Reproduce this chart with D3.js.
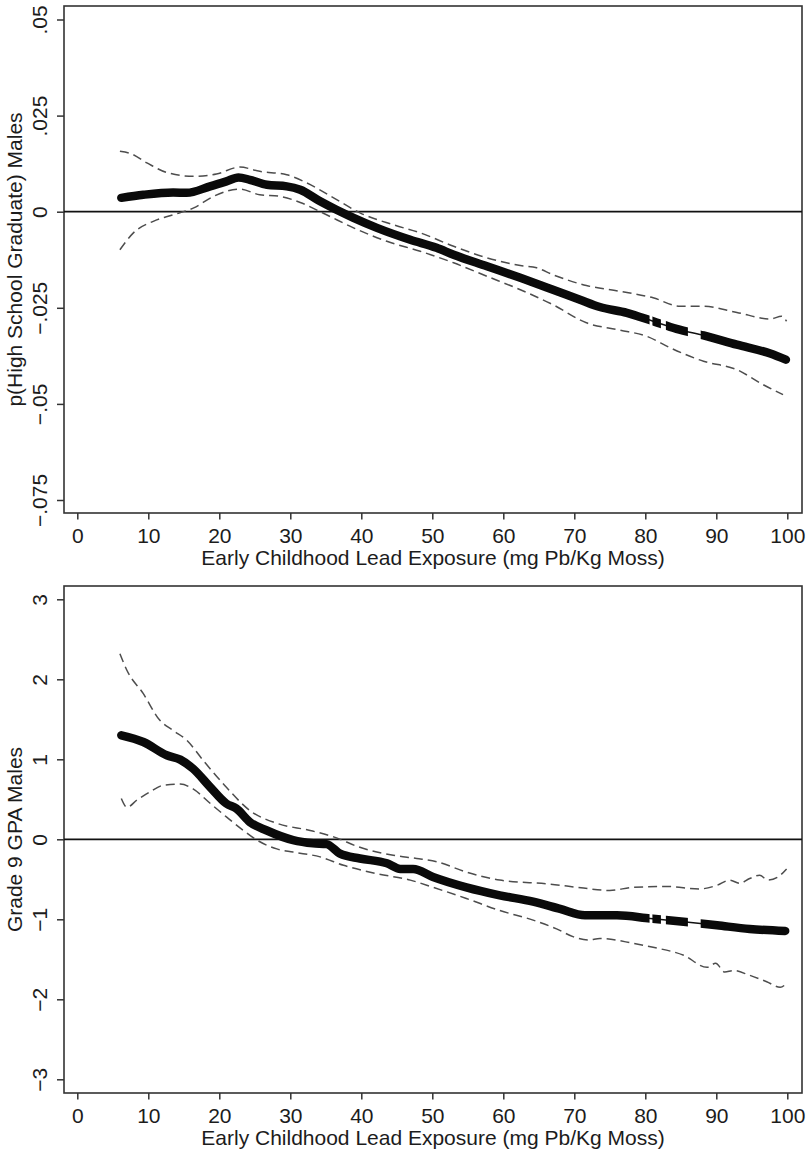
<!DOCTYPE html>
<html>
<head>
<meta charset="utf-8">
<script src="https://cdn.jsdelivr.net/npm/d3@7"></script>
<style>
  body { margin: 0; background: #fff; }
  svg { display: block; }
</style>
</head>
<body>
<div id="chart"></div>
<script>
// x axis shared by both panels
var xTicks = [0, 10, 20, 30, 40, 50, 60, 70, 80, 90, 100];
var xTitle = "Early Childhood Lead Exposure (mg Pb/Kg Moss)";

// top panel: p(High School Graduate)
var hsTicks = [0.05, 0.025, 0, -0.025, -0.05, -0.075];
var hsTickLabels = [".05", ".025", "0", "\u2212.025", "\u2212.05", "\u2212.075"];
var hsTitle = "p(High School Graduate) Males";
var hsEst = [[6.2,0.0036],[9.3,0.0044],[13.5,0.0050],[15.4,0.0049],[18.7,0.0066],[21.0,0.0079],
  [22.7,0.0089],[24.3,0.0083],[26.7,0.0070],[29.5,0.0066],[31.4,0.0057],[34.2,0.0027],[36.5,0.0005],
  [38.9,-0.0016],[42.2,-0.0042],[46.9,-0.0073],[50.6,-0.0094],[53.0,-0.0112],[57.7,-0.0142],
  [62.4,-0.0172],[67.0,-0.0203],[70.8,-0.0229],[73.6,-0.0248],[77.4,-0.0263],[81.1,-0.0285],
  [84.4,-0.0305],[88.2,-0.0322],[92.9,-0.0346],[97.6,-0.0369],[99.8,-0.0385]];
var hsHi = [[6.0,0.0157],[7.4,0.0152],[9.8,0.0127],[12.6,0.0102],[16.4,0.0092],[19.6,0.0098],
  [22.9,0.0116],[25.7,0.0105],[29.5,0.0096],[32.3,0.0075],[36.1,0.0036],[39.8,-0.0003],[44.5,-0.0034],
  [48.3,-0.0055],[53.0,-0.0090],[57.7,-0.0120],[62.4,-0.0140],[64.7,-0.0146],[67.0,-0.0164],
  [71.7,-0.0192],[76.4,-0.0207],[81.1,-0.0224],[84.9,-0.0246],[88.2,-0.0246],[92.9,-0.0262],
  [97.6,-0.0279],[99.2,-0.0272],[99.9,-0.0285]];
var hsLo = [[6.0,-0.0099],[7.9,-0.0055],[10.7,-0.0025],[13.5,-0.0008],[16.4,0.0010],[19.2,0.0040],
  [22.9,0.0059],[25.7,0.0044],[28.5,0.0040],[31.4,0.0024],[35.1,-0.0008],[38.9,-0.0042],[43.6,-0.0077],
  [48.3,-0.0103],[53.0,-0.0133],[57.7,-0.0168],[62.4,-0.0203],[67.0,-0.0242],[71.7,-0.0289],
  [76.4,-0.0308],[80.2,-0.0324],[83.5,-0.0354],[88.2,-0.0389],[92.9,-0.0411],[96.6,-0.0450],[99.4,-0.0476]];

// bottom panel: Grade 9 GPA
var gpaTicks = [3, 2, 1, 0, -1, -2, -3];
var gpaTickLabels = ["3", "2", "1", "0", "\u22121", "\u22122", "\u22123"];
var gpaTitle = "Grade 9 GPA Males";
var gpaEst = [[6.2,1.30],[9.3,1.216],[12.6,1.05],[14.5,0.996],[16.3,0.883],[18.7,0.654],[21.0,0.446],
  [22.4,0.384],[24.3,0.216],[26.7,0.11],[30.4,-0.01],[33.2,-0.05],[35.1,-0.06],[37.0,-0.18],[39.8,-0.24],
  [43.6,-0.30],[45.5,-0.37],[47.3,-0.37],[50.1,-0.47],[54.8,-0.60],[59.5,-0.70],[64.2,-0.78],[68.0,-0.87],
  [71.5,-0.95],[76.0,-0.95],[80.7,-0.99],[85.4,-1.03],[90.1,-1.075],[94.7,-1.12],[99.7,-1.146]];
var gpaHi = [[6.0,2.32],[7.0,2.11],[9.3,1.82],[11.6,1.49],[13.5,1.36],[15.4,1.24],[17.7,0.99],[21.0,0.65],
  [24.3,0.36],[28.1,0.20],[32.8,0.11],[36.1,0.03],[39.8,-0.10],[44.5,-0.20],[47.8,-0.24],[50.6,-0.28],
  [54.8,-0.41],[59.5,-0.51],[66.6,-0.56],[71.3,-0.61],[75.0,-0.64],[78.3,-0.60],[83.0,-0.59],[87.7,-0.62],
  [90.1,-0.575],[91.9,-0.51],[93.3,-0.55],[94.7,-0.49],[96.1,-0.45],[97.3,-0.51],[98.7,-0.47],[99.9,-0.37]];
var gpaLo = [[6.2,0.51],[7.0,0.40],[8.4,0.49],[10.2,0.59],[12.1,0.675],[14.5,0.69],[16.3,0.63],[18.7,0.45],
  [21.0,0.28],[23.4,0.11],[25.3,-0.01],[28.1,-0.12],[30.4,-0.16],[34.2,-0.22],[37.5,-0.325],[42.2,-0.43],
  [46.9,-0.51],[50.1,-0.60],[54.8,-0.74],[59.5,-0.89],[64.2,-1.01],[67.5,-1.12],[69.9,-1.22],[72.0,-1.26],
  [73.6,-1.24],[78.3,-1.30],[81.1,-1.35],[85.4,-1.45],[88.7,-1.60],[89.9,-1.55],[91.2,-1.66],[92.4,-1.64],
  [94.7,-1.70],[97.1,-1.78],[99.0,-1.85],[99.9,-1.80]];

// x ranges where the estimate markers are packed densely (thick band)
var denseRanges = [[6.2, 80.6], [81.0, 82.2], [82.9, 86.0], [87.8, 99.8]];

var W = 809, H = 1153;
var frameL = 64, frameR = 802;
var font = "'Liberation Sans', Arial, sans-serif";
var ink = "#1c1c1c";

var svg = d3.select("#chart").append("svg")
    .attr("width", W)
    .attr("height", H);

var x = d3.scaleLinear().domain([0, 100]).range([77.3, 787.3]);

var draw_panel = function(p, idx) {
    var y = d3.scaleLinear().domain(p.domain).range(p.range);
    var g = svg.append("g");

    // frame
    g.append("rect")
        .attr("x", frameL).attr("y", p.top)
        .attr("width", frameR - frameL).attr("height", p.bottom - p.top)
        .attr("fill", "none").attr("stroke", "#333").attr("stroke-width", 1.6);

    // x axis
    var xAxis = d3.axisBottom(x).tickValues(xTicks).tickSize(6.5).tickPadding(4).tickFormat(d3.format("d"));
    var xg = g.append("g").attr("transform", "translate(0," + p.bottom + ")").call(xAxis);
    xg.select(".domain").remove();
    xg.selectAll("line").attr("stroke", "#333").attr("stroke-width", 1.5);
    xg.selectAll("text").attr("font-family", font).attr("font-size", 21).attr("fill", ink)
        .attr("dy", null).attr("y", 30).attr("dominant-baseline", "auto");

    // y axis, labels rotated like Stata
    var yAxis = d3.axisLeft(y).tickValues(p.ticks).tickSize(7).tickFormat(function(d, i) { return p.labels[i]; });
    var yg = g.append("g").attr("transform", "translate(" + frameL + ",0)").call(yAxis);
    yg.select(".domain").remove();
    yg.selectAll("line").attr("stroke", "#333").attr("stroke-width", 1.5);
    yg.selectAll("text")
        .attr("font-family", font).attr("font-size", 21).attr("fill", ink)
        .attr("x", null).attr("dy", null)
        .attr("text-anchor", "middle")
        .attr("transform", "translate(-17,0) rotate(-90)");

    // axis titles
    g.append("text")
        .attr("x", (frameL + frameR) / 2).attr("y", p.bottom + 52)
        .attr("text-anchor", "middle")
        .attr("font-family", font).attr("font-size", 21).attr("fill", ink)
        .text(xTitle);
    g.append("text")
        .attr("transform", "translate(22," + ((p.top + p.bottom) / 2) + ") rotate(-90)")
        .attr("text-anchor", "middle")
        .attr("font-family", font).attr("font-size", 21).attr("fill", ink)
        .text(p.title);

    // reference line at zero
    g.append("line")
        .attr("x1", frameL).attr("x2", frameR)
        .attr("y1", y(0)).attr("y2", y(0))
        .attr("stroke", "#111").attr("stroke-width", 1.8);

    var line = d3.line()
        .x(function(d) { return x(d[0]); })
        .y(function(d) { return y(d[1]); })
        .curve(d3.curveMonotoneX);

    // confidence bands
    [p.hi, p.lo].forEach(function(s) {
        g.append("path")
            .attr("d", line(s))
            .attr("fill", "none").attr("stroke", "#4d4d4d")
            .attr("stroke-width", 1.5).attr("stroke-dasharray", "9,5");
    });

    // thin connecting line for the estimate
    g.append("path")
        .attr("d", line(p.est))
        .attr("fill", "none").attr("stroke", "#111").attr("stroke-width", 1.5);

    // thick band only where the markers overlap
    var clipId = "dense" + idx;
    var clip = svg.append("clipPath").attr("id", clipId);
    denseRanges.forEach(function(r, i) {
        var padL = (i == 0) ? 6 : 0;
        var padR = (i == denseRanges.length - 1) ? 6 : 0;
        clip.append("rect")
            .attr("x", x(r[0]) - padL).attr("width", x(r[1]) - x(r[0]) + padL + padR)
            .attr("y", p.top).attr("height", p.bottom - p.top);
    });
    g.append("path")
        .attr("clip-path", "url(#" + clipId + ")")
        .attr("d", line(p.est))
        .attr("fill", "none").attr("stroke", "#0a0a0a")
        .attr("stroke-width", 8.5).attr("stroke-linecap", "round");
}

draw_panel({
    top: 6, bottom: 513,
    domain: [-0.075, 0.05], range: [500, 19.5],
    ticks: hsTicks, labels: hsTickLabels, title: hsTitle,
    est: hsEst, hi: hsHi, lo: hsLo
}, 0);

draw_panel({
    top: 586, bottom: 1093,
    domain: [-3, 3], range: [1079.3, 599.3],
    ticks: gpaTicks, labels: gpaTickLabels, title: gpaTitle,
    est: gpaEst, hi: gpaHi, lo: gpaLo
}, 1);
</script>
</body>
</html>
